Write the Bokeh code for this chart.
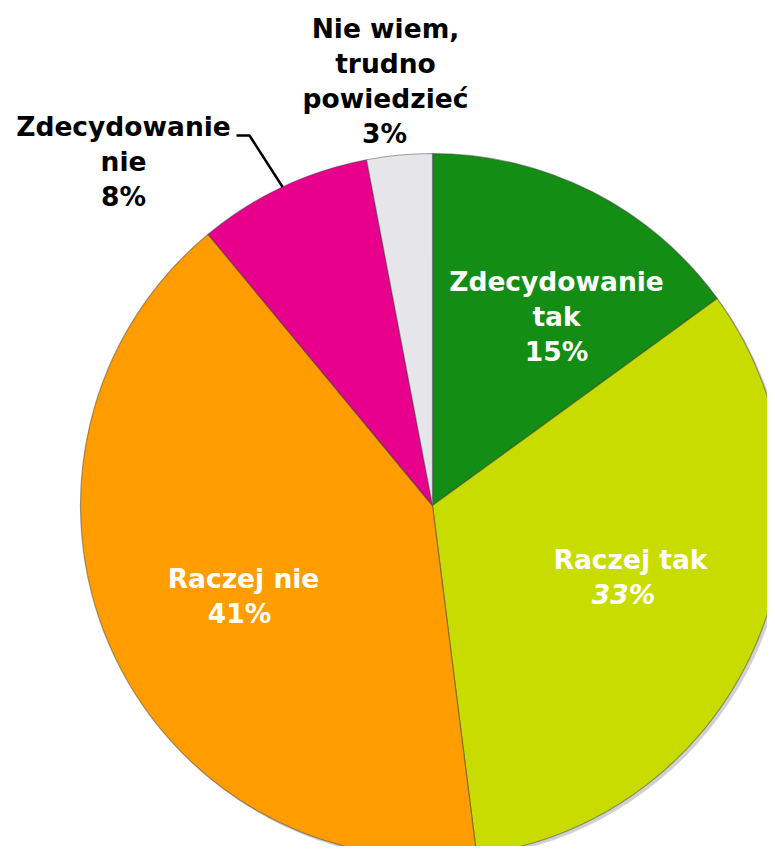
import math
from bokeh.plotting import figure
from bokeh.models import Range1d
from bokeh.embed import file_html
from bokeh.resources import INLINE
from bokeh.core.properties import value

# ---- data ----
categories = ["Zdecydowanie tak", "Raczej tak", "Raczej nie", "Zdecydowanie nie", "Nie wiem, trudno powiedzieć"]
shares = [15, 33, 41, 8, 3]
colors = ["#138d13", "#c9dc00", "#ff9d00", "#e8008c", "#e6e6ea"]
label_lines = [
    ["Zdecydowanie", "tak"],
    ["Raczej tak"],
    ["Raczej nie"],
    ["Zdecydowanie", "nie"],
    ["Nie wiem,", "trudno", "powiedzieć"],
]

# ---- layout (pixels, y measured upward) ----
W, H = 767, 846
CX, CY, R = 432, 341, 352
LINE = 35
label_style = [
    # (x of text lines, x of percent, y of first line, color, italic percent)
    (556, 556, 565, "white", False),
    (630, 623, 287, "white", True),
    (243, 239, 268, "white", False),
    (123, 123, 720, "black", False),
    (385, 384, 818, "black", False),
]

p = figure(width=W, height=H, x_range=Range1d(0, W), y_range=Range1d(0, H),
           output_backend="svg", toolbar_location=None, min_border=0)
p.axis.visible = False
p.grid.visible = False
p.outline_line_color = None
p.background_fill_color = "white"
p.border_fill_color = "white"

total = float(sum(shares))
cum = 0.0
starts, ends = [], []
for v in shares:
    a0 = math.pi / 2 - 2 * math.pi * cum / total
    cum += v
    a1 = math.pi / 2 - 2 * math.pi * cum / total
    starts.append(a0)
    ends.append(a1)

# soft shadow
p.wedge(x=CX + 3, y=CY - 3, radius=R, start_angle=0, end_angle=2 * math.pi,
        fill_color="#000000", fill_alpha=0.18, line_color=None)

p.wedge(x=[CX] * len(shares), y=[CY] * len(shares), radius=R,
        start_angle=starts, end_angle=ends, direction="clock",
        fill_color=colors, line_color="#3a3a3a", line_alpha=0.45, line_width=1.2)

# leader line for the small magenta slice
mid = (starts[3] + ends[3]) / 2
ex, ey = CX + R * math.cos(mid), CY + R * math.sin(mid)
ly = label_style[3][2] - 9
p.line(x=[236, 249, ex], y=[ly, ly, ey], line_color="black", line_width=2.5)

for i, lines in enumerate(label_lines):
    x, xp, y0, col, ital = label_style[i]
    texts = lines + [f"{shares[i]}%"]
    for j, t in enumerate(texts):
        is_pct = j == len(texts) - 1
        style = "bold italic" if (is_pct and ital) else "bold"
        p.text(x=[xp if is_pct else x], y=[y0 - j * LINE], text=[t],
               text_font=value("DejaVu Sans"), text_font_size="26.5px",
               text_font_style=style, text_color=col,
               text_align="center", text_baseline="middle")

open("out.html", "w").write(file_html(p, INLINE))
